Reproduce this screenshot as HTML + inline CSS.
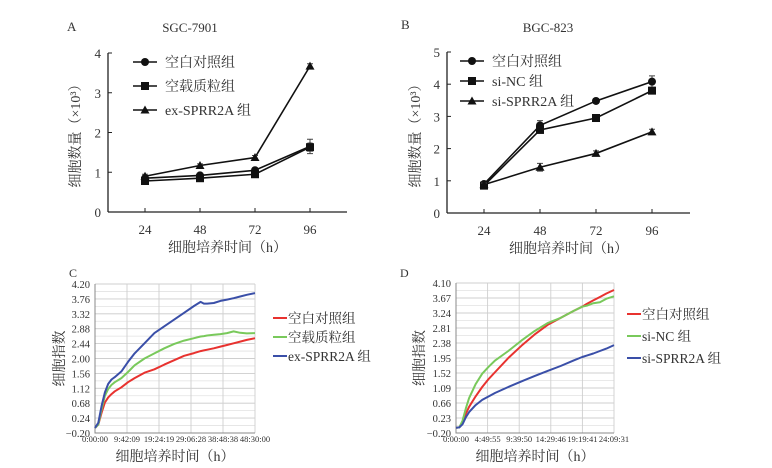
<!DOCTYPE html>
<html><head><meta charset="utf-8">
<style>
html,body{margin:0;padding:0;background:#fff;}
svg{display:block;font-family:"Liberation Serif","Noto Serif CJK SC","Noto Sans CJK SC",serif;}
text{fill:#333;}
</style></head>
<body>
<svg id="fig" width="772" height="468" viewBox="0 0 772 468" xmlns="http://www.w3.org/2000/svg"></svg>
<script>
// ---- Panel A data ----
const aCats = [24, 48, 72, 96];
const aCtrl = [0.85, 0.92, 1.05, 1.65];
const aVec = [0.78, 0.85, 0.95, 1.63];
const aEx = [0.9, 1.17, 1.37, 3.67];
const aErrCtrl = [0.04, 0.05, 0.05, 0.18];
const aErrVec = [0.04, 0.04, 0.05, 0.1];
const aErrEx = [0.05, 0.04, 0.05, 0.06];
const aTicks = [0, 1, 2, 3, 4];
// ---- Panel B data ----
const bCats = [24, 48, 72, 96];
const bCtrl = [0.9, 2.72, 3.48, 4.08];
const bNC = [0.85, 2.58, 2.95, 3.8];
const bSi = [0.88, 1.42, 1.85, 2.52];
const bErrCtrl = [0.05, 0.15, 0.05, 0.18];
const bErrNC = [0.05, 0.1, 0.07, 0.08];
const bErrSi = [0.05, 0.12, 0.08, 0.08];
const bTicks = [0, 1, 2, 3, 4, 5];
// ---- Panel C data ----
const cTime = [0,1,2,3,4,5,6,8,10,12,15,18,21,24,27,30,32,33,34,36,38,40,42,44,46,48.5];
const cRed = [-0.05,0.05,0.4,0.7,0.85,0.95,1.03,1.15,1.3,1.42,1.58,1.68,1.82,1.95,2.08,2.16,2.22,2.24,2.26,2.3,2.35,2.4,2.45,2.5,2.55,2.6];
const cGreen = [-0.05,0.05,0.5,0.9,1.1,1.22,1.3,1.42,1.6,1.8,2.0,2.15,2.3,2.43,2.53,2.6,2.65,2.66,2.68,2.7,2.72,2.75,2.8,2.76,2.74,2.75];
const cBlue = [-0.05,0.1,0.6,1.0,1.25,1.38,1.45,1.62,1.9,2.15,2.45,2.75,2.95,3.15,3.35,3.55,3.67,3.62,3.62,3.64,3.7,3.74,3.78,3.83,3.88,3.93];
const cYTicks = ["-0.20","0.24","0.68","1.12","1.56","2.00","2.44","2.88","3.32","3.76","4.20"];
const cXTicks = ["0:00:00","9:42:09","19:24:19","29:06:28","38:48:38","48:30:00"];
// ---- Panel D data ----
const dTime = [0,0.5,1,1.5,2,3,4,5,6,8,10,12,14,16,18,19.3,20,21,22,23,24.16];
const dRed = [-0.05,-0.04,0.1,0.35,0.55,0.85,1.12,1.35,1.55,1.95,2.3,2.62,2.9,3.1,3.3,3.42,3.5,3.6,3.7,3.8,3.9];
const dGreen = [-0.05,-0.04,0.15,0.5,0.8,1.2,1.5,1.7,1.88,2.15,2.45,2.72,2.95,3.1,3.3,3.42,3.45,3.52,3.55,3.65,3.72];
const dBlue = [-0.05,-0.04,0.05,0.25,0.4,0.6,0.75,0.85,0.95,1.12,1.28,1.43,1.58,1.72,1.88,1.98,2.02,2.08,2.15,2.22,2.32];
const dYTicks = ["-0.20","0.23","0.66","1.09","1.52","1.95","2.38","2.81","3.24","3.67","4.10"];
const dXTicks = ["0:00:00","4:49:55","9:39:50","14:29:46","19:19:41","24:09:31"];

const NS = "http://www.w3.org/2000/svg";
const svg = document.getElementById("fig");
function mk(tag, attrs, parent, txt){
  const e = document.createElementNS(NS, tag);
  for (const k in attrs) e.setAttribute(k, attrs[k]);
  if (txt !== undefined) e.textContent = txt;
  (parent || svg).appendChild(e);
  return e;
}
function txt(x, y, s, size, anchor, name, parent){
  const t = mk("text", {x:x, y:y, "font-size":size, "text-anchor":anchor||"start"}, parent, s);
  
  
  return t;
}
function marker(type, x, y, g){
  let m;
  if (type === "circle") m = mk("circle", {cx:x, cy:y, r:4, fill:"#111"}, g);
  else if (type === "square") m = mk("rect", {x:x-4, y:y-4, width:8, height:8, fill:"#111"}, g);
  else m = mk("polygon", {points:`${x},${y-4.5} ${x+4.5},${y+3.5} ${x-4.5},${y+3.5}`, fill:"#111"}, g);
  
  
}

// ----- Line panels (A and B) -----
function linePanel(o){
  const g = mk("g", {});
  
  
  const yS = v => o.y0 - (v - o.ymin) / (o.ymax - o.ymin) * (o.y0 - o.y1);
  const xS = i => o.xs0 + i * o.dx;
  const axY = mk("line", {x1:o.ax, y1:o.y1, x2:o.ax, y2:o.y0, stroke:"#222", "stroke-width":1.3}, g);
   
  const axX = mk("line", {x1:o.ax, y1:o.y0, x2:o.axr, y2:o.y0, stroke:"#222", "stroke-width":1.3}, g);
   
  o.ticks.forEach(t => {
    const y = yS(t);
    const l = mk("line", {x1:o.ax, y1:y, x2:o.ax+4, y2:y, stroke:"#222"}, g);
     
    txt(o.ax-7, y+5, String(t), 13, "end", "y-tick-label", g);
  });
  o.cats.forEach((c, i) => {
    const x = xS(i);
    const l = mk("line", {x1:x, y1:o.y0, x2:x, y2:o.y0-4, stroke:"#222"}, g);
     
    txt(x, o.y0+22, String(c), 13, "middle", "x-tick-label", g);
  });
  o.series.forEach(s => {
    const pts = s.vals.map((v, i) => `${xS(i)},${yS(v)}`).join(" ");
    const pl = mk("polyline", {points:pts, fill:"none", stroke:"#111", "stroke-width":1.6}, g);
     
    s.vals.forEach((v, i) => {
      const x = xS(i), e = s.err[i];
      const eb = mk("path", {d:`M${x},${yS(v+e)}V${yS(v-e)}M${x-3},${yS(v+e)}H${x+3}M${x-3},${yS(v-e)}H${x+3}`, stroke:"#444", "stroke-width":1, fill:"none"}, g);
       
      marker(s.marker, x, yS(v), g);
    });
  });
  o.series.forEach((s, i) => {
    const y = o.legY + i * o.legDy;
    const lg = mk("g", {}, g);
     
    mk("line", {x1:o.legX, y1:y, x2:o.legX+24, y2:y, stroke:"#111", "stroke-width":1.6}, lg);
    marker(s.marker, o.legX+12, y, lg);
    txt(o.legX+32, y+5, s.label, 14, "start", "legend-label", lg);
  });
  txt(o.labX, o.labY, o.letter, 13, "start", "panel-label", g);
  txt(o.titleX, o.titleY, o.title, 13, "middle", "chart-title", g);
  txt((o.ax + o.axr) / 2, o.y0 + 40, "细胞培养时间（h）", 14, "middle", "x-axis-title", g);
  const yt = txt(0, 0, "细胞数量（×10³）", 14, "middle", "y-axis-title", g);
  yt.setAttribute("transform", `translate(${o.ytX},${(o.y0+o.y1)/2}) rotate(-90)`);
}
linePanel({name:"panel-a", ax:108, axr:347, y0:212, y1:53, ymin:0, ymax:4, ticks:aTicks, cats:aCats, xs0:145, dx:55,
  series:[{name:"control",label:"空白对照组",marker:"circle",vals:aCtrl,err:aErrCtrl},
          {name:"vector",label:"空载质粒组",marker:"square",vals:aVec,err:aErrVec},
          {name:"ex-sprr2a",label:"ex-SPRR2A 组",marker:"triangle",vals:aEx,err:aErrEx}],
  legX:133, legY:62, legDy:24, labX:67, labY:31, letter:"A", titleX:190, titleY:32, title:"SGC-7901", ytX:80});
linePanel({name:"panel-b", ax:447, axr:690, y0:213, y1:52, ymin:0, ymax:5, ticks:bTicks, cats:bCats, xs0:484, dx:56,
  series:[{name:"control",label:"空白对照组",marker:"circle",vals:bCtrl,err:bErrCtrl},
          {name:"si-nc",label:"si-NC 组",marker:"square",vals:bNC,err:bErrNC},
          {name:"si-sprr2a",label:"si-SPRR2A 组",marker:"triangle",vals:bSi,err:bErrSi}],
  legX:460, legY:61, legDy:20, labX:401, labY:29, letter:"B", titleX:548, titleY:32, title:"BGC-823", ytX:420});

// ----- RTCA panels (C and D) -----
function rtcaPanel(o){
  const g = mk("g", {});
  
  
  const ymin = parseFloat(o.yt[0]), ymax = parseFloat(o.yt[o.yt.length-1]);
  const yS = v => o.y0 - (v - ymin) / (ymax - ymin) * (o.y0 - o.y1);
  const xS = t => o.x0 + t / o.tmax * (o.x1 - o.x0);
  // grid minor
  const nMinor = 20;
  for (let i = 0; i <= nMinor; i++){
    const y = o.y1 + i * (o.y0 - o.y1) / nMinor;
    const l = mk("line", {x1:o.x0, y1:y, x2:o.x1, y2:y, stroke:"#e2e2e2", "stroke-width":0.8}, g);
     
  }
  const nX = o.xt.length - 1;
  for (let i = 0; i <= nX; i++){
    const x = o.x0 + i * (o.x1 - o.x0) / nX;
    const l = mk("line", {x1:x, y1:o.y1, x2:x, y2:o.y0, stroke:"#cfcfcf", "stroke-width":0.9}, g);
     
    txt(x, o.y0+9, o.xt[i], 8.5, "middle", "x-tick-label", g);
  }
  o.yt.forEach((t, i) => {
    const y = yS(parseFloat(t));
    const l = mk("line", {x1:o.x0, y1:y, x2:o.x1, y2:y, stroke:"#cfcfcf", "stroke-width":0.9}, g);
     
    txt(o.x0-5, y+4, t.replace("-", "−"), 10.5, "end", "y-tick-label", g);
  });
  const ax = mk("path", {d:`M${o.x0},${o.y1}V${o.y0}H${o.x1}`, stroke:"#888", fill:"none", "stroke-width":1}, g);
   
  o.series.forEach(s => {
    const pts = s.vals.map((v, i) => `${xS(o.time[i]).toFixed(1)},${yS(v).toFixed(1)}`).join(" ");
    const pl = mk("polyline", {points:pts, fill:"none", stroke:s.color, "stroke-width":2, "stroke-linejoin":"round"}, g);
     
  });
  o.series.forEach((s, i) => {
    const y = o.legY + i * o.legDy;
    const lg = mk("g", {}, g);
     
    mk("line", {x1:o.legX, y1:y, x2:o.legX+14, y2:y, stroke:s.color, "stroke-width":2}, lg);
    txt(o.legX+15, y+5, s.label, 13.5, "start", "legend-label", lg);
  });
  txt(o.labX, o.labY, o.letter, 12, "start", "panel-label", g);
  txt((o.x0 + o.x1) / 2, o.y0 + 28, "细胞培养时间（h）", 14, "middle", "x-axis-title", g);
  const yt = txt(0, 0, "细胞指数", 14, "middle", "y-axis-title", g);
  yt.setAttribute("transform", `translate(${o.ytX},${(o.y0+o.y1)/2}) rotate(-90)`);
}
rtcaPanel({name:"panel-c", x0:95, x1:255, y0:433, y1:284, tmax:48.5, time:cTime, yt:cYTicks, xt:cXTicks,
  series:[{name:"control",label:"空白对照组",color:"#e8322f",vals:cRed},
          {name:"vector",label:"空载质粒组",color:"#79c95b",vals:cGreen},
          {name:"ex-sprr2a",label:"ex-SPRR2A 组",color:"#3a4fa8",vals:cBlue}],
  legX:273, legY:318, legDy:19, labX:69, labY:277, letter:"C", ytX:64});
rtcaPanel({name:"panel-d", x0:456, x1:614, y0:433, y1:283, tmax:24.16, time:dTime, yt:dYTicks, xt:dXTicks,
  series:[{name:"control",label:"空白对照组",color:"#e8322f",vals:dRed},
          {name:"si-nc",label:"si-NC 组",color:"#79c95b",vals:dGreen},
          {name:"si-sprr2a",label:"si-SPRR2A 组",color:"#3a4fa8",vals:dBlue}],
  legX:627, legY:314, legDy:22, labX:400, labY:277, letter:"D", ytX:424});
</script>
</body></html>
